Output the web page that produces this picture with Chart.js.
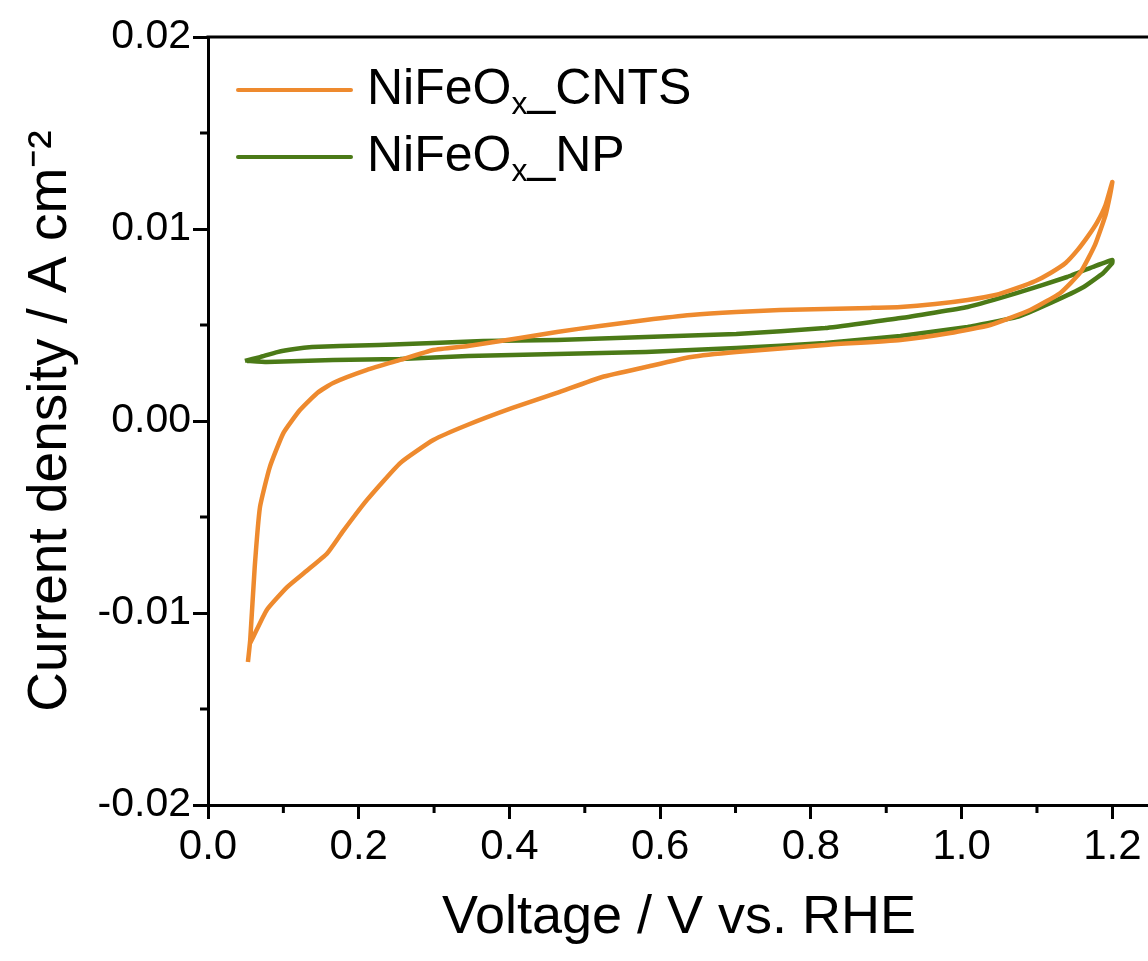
<!DOCTYPE html>
<html>
<head>
<meta charset="utf-8">
<script src="https://cdn.jsdelivr.net/npm/chart.js@4.4.0/dist/chart.umd.min.js"></script>
<style>
  html, body { margin: 0; padding: 0; background: #fff; overflow: hidden; }
  #wrap { width: 1150px; height: 961px; }
</style>
</head>
<body>
<div id="wrap"><canvas id="cv"></canvas></div>
<script>
// NiFeOx_CNTS: anodic scan (0.05 -> 1.2 V) then cathodic scan back
const cntsV = [0.053, 0.056, 0.062, 0.069, 0.082, 0.100, 0.122, 0.145, 0.166, 0.211, 0.255, 0.299, 0.345, 0.414, 0.463, 0.520, 0.581, 0.641, 0.701, 0.759, 0.819, 0.879, 0.919, 0.965, 1.008, 1.045, 1.074, 1.098, 1.118, 1.138, 1.154, 1.168, 1.180, 1.191, 1.200,
               1.197, 1.191, 1.177, 1.158, 1.131, 1.091, 1.038, 0.985, 0.919, 0.819, 0.701, 0.641, 0.581, 0.523, 0.463, 0.404, 0.344, 0.299, 0.255, 0.211, 0.179, 0.158, 0.131, 0.105, 0.078, 0.060, 0.056];
const cntsJ = [-0.01255, -0.01141, -0.00760, -0.00448, -0.00240, -0.00063, 0.00057, 0.00146, 0.00198, 0.00266, 0.00318, 0.00370, 0.00391, 0.00432, 0.00464, 0.00495, 0.00526, 0.00552, 0.00568, 0.00578, 0.00583, 0.00589, 0.00594, 0.00609, 0.00630, 0.00656, 0.00693, 0.00729, 0.00771, 0.00823, 0.00891, 0.00964, 0.01036, 0.01125, 0.01245,
               0.01177, 0.01073, 0.00917, 0.00776, 0.00667, 0.00578, 0.00500, 0.00458, 0.00422, 0.00396, 0.00359, 0.00333, 0.00281, 0.00229, 0.00146, 0.00068, -0.00021, -0.00099, -0.00219, -0.00411, -0.00575, -0.00690, -0.00780, -0.00865, -0.00984, -0.01125, -0.01156];

// NiFeOx_NP
const npV = [0.049, 0.069, 0.092, 0.115, 0.138, 0.175, 0.227, 0.299, 0.365, 0.463, 0.581, 0.701, 0.819, 0.919, 1.008, 1.074, 1.140, 1.177, 1.200,
             1.200, 1.188, 1.162, 1.118, 1.074, 1.008, 0.919, 0.819, 0.701, 0.581, 0.463, 0.345, 0.255, 0.166, 0.078, 0.052];
const npJ = [0.00313, 0.00333, 0.00359, 0.00375, 0.00385, 0.00391, 0.00396, 0.00406, 0.00417, 0.00422, 0.00438, 0.00453, 0.00484, 0.00536, 0.00594, 0.00667, 0.00750, 0.00807, 0.00839,
             0.00823, 0.00771, 0.00698, 0.00615, 0.00542, 0.00490, 0.00443, 0.00406, 0.00380, 0.00359, 0.00349, 0.00339, 0.00323, 0.00318, 0.00307, 0.00313];

const seriesNames = ['NiFeO', 'NiFeO'];
const seriesSubs = ['x', 'x'];
const seriesTails = ['_CNTS', '_NP'];
const seriesColors = ['#EE8A2E', '#4B7A17'];

const xTicks = [0.0, 0.2, 0.4, 0.6, 0.8, 1.0, 1.2];
const xMinor = [0.1, 0.3, 0.5, 0.7, 0.9, 1.1];
const yTicks = [-0.02, -0.01, 0.00, 0.01, 0.02];
const yMinor = [-0.015, -0.005, 0.005, 0.015];

const FONT = '"Liberation Sans", Arial, sans-serif';

const toPts = (xs, ys) => xs.map((x, i) => ({ x: x, y: ys[i] }));

// minor ticks, top frame line and the legend with subscripts
const extras = {
    id: 'extras',
    afterDraw(chart) {
        const ctx = chart.ctx;
        const a = chart.chartArea;
        const xs = chart.scales.x, ys = chart.scales.y;
        ctx.save();
        ctx.strokeStyle = '#000';
        ctx.lineWidth = 3;
        ctx.beginPath();
        ctx.moveTo(a.left - 1.5, a.top);
        ctx.lineTo(a.right, a.top);
        ctx.moveTo(a.right, a.top);
        ctx.lineTo(a.right, a.bottom);
        xMinor.forEach(v => {
            const p = xs.getPixelForValue(v);
            ctx.moveTo(p, a.bottom);
            ctx.lineTo(p, a.bottom + 8);
        });
        yMinor.forEach(v => {
            const p = ys.getPixelForValue(v);
            ctx.moveTo(a.left, p);
            ctx.lineTo(a.left - 8, p);
        });
        ctx.stroke();

        // legend
        const rows = [90, 157];
        rows.forEach((y, i) => {
            ctx.strokeStyle = seriesColors[i];
            ctx.lineWidth = 4;
            ctx.lineCap = 'round';
            ctx.beginPath();
            ctx.moveTo(238, y);
            ctx.lineTo(351, y);
            ctx.stroke();
            ctx.fillStyle = '#000';
            ctx.textBaseline = 'alphabetic';
            ctx.textAlign = 'left';
            let x = 367;
            const base = y + 14;
            ctx.font = '50px ' + FONT;
            ctx.fillText(seriesNames[i], x, base);
            x += ctx.measureText(seriesNames[i]).width;
            ctx.font = '32px ' + FONT;
            ctx.fillText(seriesSubs[i], x, base + 10);
            x += ctx.measureText(seriesSubs[i]).width;
            ctx.font = '50px ' + FONT;
            ctx.fillText(seriesTails[i], x, base);
        });
        ctx.restore();
    }
};

new Chart(document.getElementById('cv'), {
    type: 'scatter',
    data: {
        datasets: [
            { label: 'NiFeOx_CNTS', data: toPts(cntsV, cntsJ), showLine: true, borderColor: seriesColors[0], borderWidth: 4.5, pointRadius: 0, tension: 0.15, fill: false },
            { label: 'NiFeOx_NP', data: toPts(npV, npJ), showLine: true, borderColor: seriesColors[1], borderWidth: 4.5, pointRadius: 0, tension: 0.1, fill: false }
        ]
    },
    options: {
        responsive: true,
        maintainAspectRatio: false,
        animation: false,
        layout: { padding: { top: 37, right: 0, left: 0, bottom: 0 } },
        plugins: { legend: { display: false }, tooltip: { enabled: false } },
        scales: {
            x: {
                type: 'linear',
                min: 0,
                max: 1.25,
                afterBuildTicks: s => { s.ticks = xTicks.map(v => ({ value: v })); },
                afterFit: s => { s.height = 156; },
                border: { display: true, color: '#000', width: 3 },
                grid: { drawOnChartArea: false, drawTicks: true, tickLength: 14, tickWidth: 3, tickColor: '#000' },
                ticks: { color: '#000', font: { family: FONT, size: 42 }, padding: 3, maxRotation: 0,
                         callback: v => v.toFixed(1) },
                title: { display: true, text: 'Voltage / V vs. RHE', color: '#000',
                         font: { family: FONT, size: 54 }, padding: { top: 0, bottom: 10 } }
            },
            y: {
                type: 'linear',
                min: -0.02,
                max: 0.02,
                afterBuildTicks: s => { s.ticks = yTicks.map(v => ({ value: v })); },
                afterFit: s => { s.width = 208; },
                border: { display: true, color: '#000', width: 3 },
                grid: { drawOnChartArea: false, drawTicks: true, tickLength: 15, tickWidth: 3, tickColor: '#000' },
                ticks: { color: '#000', font: { family: FONT, size: 41 }, padding: 2,
                         callback: v => v.toFixed(2) },
                title: { display: true, text: 'Current density / A cm⁻²', color: '#000',
                         font: { family: FONT, size: 55 }, padding: { top: 18, bottom: 0 } }
            }
        }
    },
    plugins: [extras]
});
</script>
</body>
</html>
